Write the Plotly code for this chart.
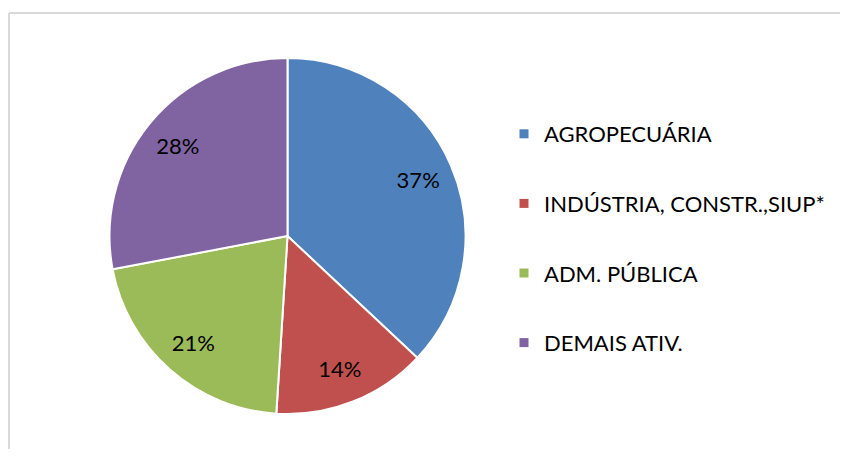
import plotly.graph_objects as go

categories = ["AGROPECUÁRIA", "INDÚSTRIA, CONSTR.,SIUP*", "ADM. PÚBLICA", "DEMAIS ATIV."]
values = [37, 14, 21, 28]
colors = ["#4F81BD", "#C0504D", "#9BBB59", "#8064A2"]

# figure sized so that, with the page's 8px body margins, it fits the 848x457 window without scrollbars
W, H = 832, 441
cx, cy, r = 279.5, 228, 178
dom = dict(x=[(cx - r) / W, (cx + r) / W], y=[1 - (cy + r) / H, 1 - (cy - r) / H])
FONT = "Lato, Carlito, Calibri, sans-serif"

fig = go.Figure()

# coloured pie
fig.add_trace(go.Pie(
    labels=categories, values=values, sort=False, direction="clockwise", rotation=0,
    marker=dict(colors=colors, line=dict(color="white", width=2)),
    textinfo="none", domain=dom, automargin=False, showlegend=False, hoverinfo="skip",
))
# transparent ring that carries the percentage labels further out
fig.add_trace(go.Pie(
    labels=categories, values=values, sort=False, direction="clockwise", rotation=0,
    hole=0.6,
    marker=dict(colors=["rgba(0,0,0,0)"] * len(values), line=dict(width=0)),
    texttemplate="%{percent:.0%}", textposition="inside", insidetextorientation="horizontal",
    textfont=dict(family=FONT, size=22, color="black"),
    domain=dom, automargin=False, showlegend=False, hoverinfo="skip",
))

# legend entries
for c, col in zip(categories, colors):
    fig.add_trace(go.Scatter(
        x=[None], y=[None], mode="markers", name=c, legendgroup=c,
        marker=dict(symbol="square", size=9, color=col),
    ))

border = dict(color="#D9D9D9", width=2)
fig.update_layout(
    width=W, height=H,
    margin=dict(l=0, r=0, t=0, b=0),
    paper_bgcolor="white", plot_bgcolor="white",
    xaxis=dict(visible=False), yaxis=dict(visible=False),
    showlegend=True,
    legend=dict(
        x=496 / W, y=1 - 105 / H, xanchor="left", yanchor="top",
        font=dict(family=FONT, size=22, color="black"),
        traceorder="grouped", tracegroupgap=38,
        bgcolor="rgba(0,0,0,0)",
    ),
    shapes=[
        dict(type="line", xref="paper", yref="paper",
             x0=1 / W, x1=1, y0=1 - 5 / H, y1=1 - 5 / H, line=border, layer="below"),
        dict(type="line", xref="paper", yref="paper",
             x0=1 / W, x1=1 / W, y0=0, y1=1 - 5 / H, line=border, layer="below"),
    ],
)

fig.write_html("out.html", config=dict(displayModeBar=False))
